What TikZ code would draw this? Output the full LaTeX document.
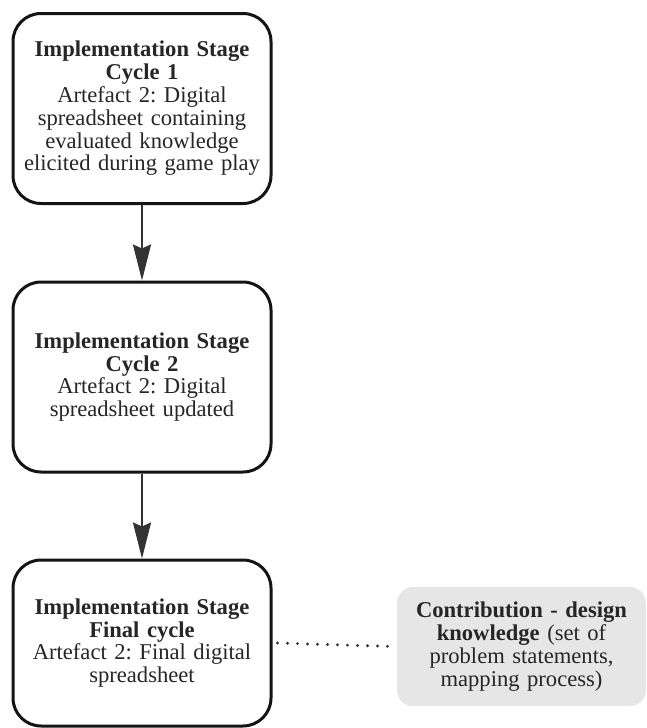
\documentclass[tikz,border=0pt]{standalone}
\usepackage{fontspec}
\setmainfont{Liberation Serif}
\usetikzlibrary{arrows.meta}
\definecolor{edgegray}{HTML}{333333}
\definecolor{notegray}{HTML}{E6E6E6}
\frenchspacing
\begin{document}
\begin{tikzpicture}[x=1pt,y=-1pt,
  stagebox/.style={draw=black!92, line width=3pt, rounded corners=28pt,
    fill=white, align=center, minimum width=258pt, text width=252pt,
    inner sep=0pt, text=black!85, font=\fontsize{22.6}{22.8}\selectfont},
  notebox/.style={fill=notegray, rounded corners=16pt, align=center,
    minimum width=249pt, text width=245pt, inner sep=0pt, text=black!85,
    font=\fontsize{22.6}{22.8}\selectfont},
  flow/.style={draw=edgegray, line width=2pt,
    -{Stealth[length=36pt,width=18pt,inset=4pt]}},
  link/.style={draw=edgegray, line width=3.2pt, line cap=round,
    dash pattern=on 0pt off 10pt}]
\useasboundingbox (0,0) rectangle (646,728);

\node[stagebox, minimum height=190pt] (s1) at (142,108.5)
  {\textbf{Implementation Stage}\\\textbf{Cycle 1}\\Artefact 2: Digital\\spreadsheet containing\\evaluated knowledge\\elicited during game play};
\node[stagebox, minimum height=190pt] (s2) at (142,377)
  {\textbf{Implementation Stage}\\\textbf{Cycle 2}\\Artefact 2: Digital\\spreadsheet updated};
\node[stagebox, minimum height=166pt] (s3) at (142,643)
  {\textbf{Implementation Stage}\\\textbf{Final cycle}\\Artefact 2: Final digital\\spreadsheet};
\node[notebox, minimum height=119pt] (c) at (521.5,646.5)
  {\textbf{Contribution - design}\\\textbf{knowledge} (set of\\problem statements,\\mapping process)};

\draw[flow] (s1) -- (s2);
\draw[flow] (s2) -- (s3);
\draw[link] ([xshift=5pt]s3.east) -- ([xshift=-4pt]c.west);
\end{tikzpicture}
\end{document}
